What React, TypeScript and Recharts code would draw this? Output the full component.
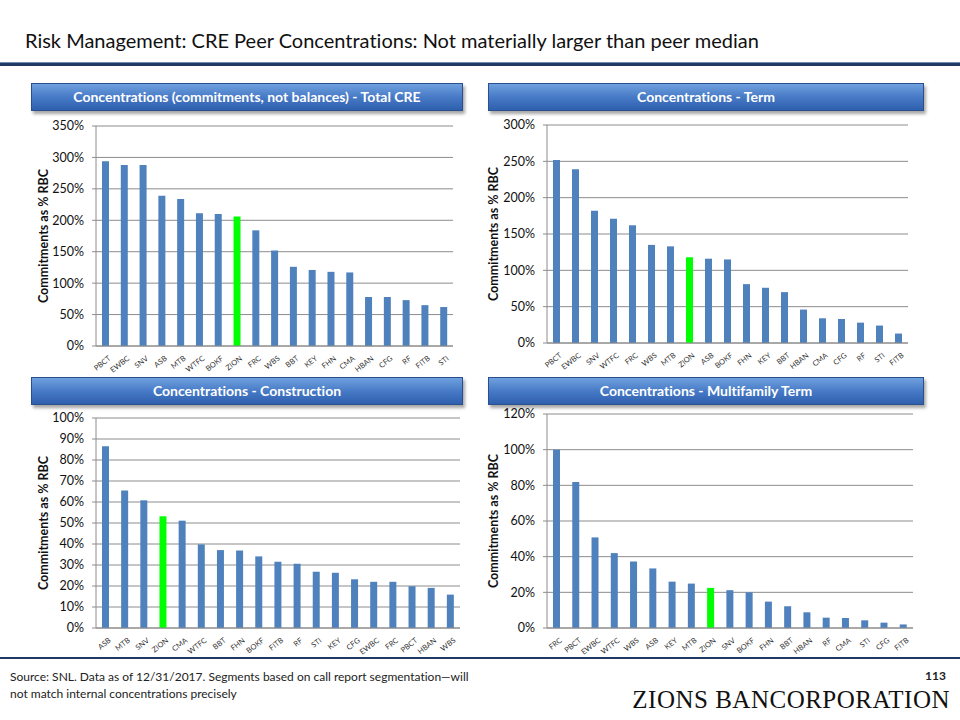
import React from 'react'
import { BarChart, Bar, XAxis, YAxis, CartesianGrid, Cell } from 'recharts'

// tickers + values (% of RBC)
const totalBanks = ['PBCT', 'EWBC', 'SNV', 'ASB', 'MTB', 'WTFC', 'BOKF', 'ZION', 'FRC', 'WBS', 'BBT', 'KEY', 'FHN', 'CMA', 'HBAN', 'CFG', 'RF', 'FITB', 'STI']
const totalValues = [294, 288, 288, 239, 234, 211, 210, 206, 184, 152, 126, 121, 118, 117, 78, 78, 73, 65, 62]

const termBanks = ['PBCT', 'EWBC', 'SNV', 'WTFC', 'FRC', 'WBS', 'MTB', 'ZION', 'ASB', 'BOKF', 'FHN', 'KEY', 'BBT', 'HBAN', 'CMA', 'CFG', 'RF', 'STI', 'FITB']
const termValues = [252, 239, 182, 171, 162, 135, 133, 118, 116, 115, 81, 76, 70, 46, 34, 33, 28, 24, 13]

const constrBanks = ['ASB', 'MTB', 'SNV', 'ZION', 'CMA', 'WTFC', 'BBT', 'FHN', 'BOKF', 'FITB', 'RF', 'STI', 'KEY', 'CFG', 'EWBC', 'FRC', 'PBCT', 'HBAN', 'WBS']
const constrValues = [86.5, 65.5, 60.8, 53.2, 51.1, 39.8, 37.1, 36.9, 34.1, 31.5, 30.6, 26.8, 26.3, 23.2, 22, 22, 19.9, 19.1, 15.9]

const mfBanks = ['FRC', 'PBCT', 'EWBC', 'WTFC', 'WBS', 'ASB', 'KEY', 'MTB', 'ZION', 'SNV', 'BOKF', 'FHN', 'BBT', 'HBAN', 'RF', 'CMA', 'STI', 'CFG', 'FITB']
const mfValues = [100, 81.8, 50.8, 42, 37.3, 33.4, 26, 24.9, 22.5, 21.2, 20, 14.8, 12.2, 8.8, 5.8, 5.6, 4.3, 3, 2]

const totalTicks = [0, 50, 100, 150, 200, 250, 300, 350]
const termTicks = [0, 50, 100, 150, 200, 250, 300]
const constrTicks = [0, 10, 20, 30, 40, 50, 60, 70, 80, 90, 100]
const mfTicks = [0, 20, 40, 60, 80, 100, 120]

const FONT = 'Lato, "Open Sans", sans-serif'
const BLUE = '#4f81bd'
const GREEN = '#00ff00'
const GRID = '#8c8c8c'

const toRows = (banks: string[], values: number[]) =>
  banks.map((name, i) => ({ name, value: values[i] }))

const BankTick = (props: any) => {
  const { x, y, payload } = props
  return (
    <g transform={`translate(${x + 4},${y + 3}) rotate(-38)`}>
      <text
        x={0}
        y={0}
        dy={3}
        textAnchor='end'
        fontSize={7.5}
        fill='#333'
        fontFamily={FONT}
      >
        {payload.value}
      </text>
    </g>
  )
}

function Panel(props: {
  banks: string[]
  values: number[]
  ticks: number[]
  left: number
  top: number
  width: number
  height: number
  margin: { top: number; right: number; left: number; bottom: number }
  yWidth: number
  xHeight: number
  labelX: number
}) {
  const { banks, values, ticks, left, top, width, height, margin, yWidth, xHeight, labelX } = props
  const data = toRows(banks, values)
  const plotTop = margin.top
  const plotBottom = height - margin.bottom - xHeight
  return (
    <div style={{ position: 'absolute', left, top, width, height }}>
      <BarChart width={width} height={height} data={data} margin={margin} barSize={7}>
        <CartesianGrid vertical={false} stroke={GRID} strokeWidth={1} />
        <XAxis
          dataKey='name'
          interval={0}
          height={xHeight}
          tick={<BankTick />}
          tickLine={false}
          axisLine={{ stroke: GRID }}
        />
        <YAxis
          width={yWidth}
          domain={[ticks[0], ticks[ticks.length - 1]]}
          ticks={ticks}
          tickFormatter={(v: number) => `${v}%`}
          tickSize={4}
          tickMargin={8}
          tickLine={{ stroke: GRID }}
          axisLine={{ stroke: GRID }}
          tick={{ fontSize: 12.5, fill: '#111', fontFamily: FONT }}
          interval={0}
        />
        <Bar dataKey='value' isAnimationActive={false}>
          {data.map((d) => (
            <Cell key={d.name} fill={d.name === 'ZION' ? GREEN : BLUE} />
          ))}
        </Bar>
      </BarChart>
      <div
        style={{
          position: 'absolute',
          left: labelX,
          top: (plotTop + plotBottom) / 2,
          transform: 'translate(-50%, -50%) rotate(-90deg)',
          whiteSpace: 'nowrap',
          fontFamily: FONT,
          fontWeight: 700,
          fontSize: 12.5,
          color: '#111',
        }}
      >
        Commitments as % RBC
      </div>
    </div>
  )
}

function Header(props: { text: string; left: number; top: number; width: number }) {
  return (
    <div
      style={{
        position: 'absolute',
        left: props.left,
        top: props.top,
        width: props.width,
        height: 26,
        background: 'linear-gradient(#6fa0de, #4477c4 55%, #2f60ae)',
        border: '1px solid #2a4f8c',
        boxShadow: '2px 3px 3px rgba(0,0,0,0.35)',
        color: '#fff',
        fontFamily: FONT,
        fontWeight: 700,
        fontSize: 14,
        lineHeight: '26px',
        textAlign: 'center',
        fontVariantLigatures: 'none',
      }}
    >
      {props.text}
    </div>
  )
}

export default function App() {
  return (
    <div
      style={{
        position: 'absolute',
        left: 0,
        top: 0,
        width: 960,
        height: 720,
        background: '#fff',
        overflow: 'hidden',
        fontVariantLigatures: 'none',
      }}
    >
      <div
        style={{
          position: 'absolute',
          left: 25,
          top: 28,
          fontFamily: FONT,
          fontSize: 20,
          color: '#111',
          whiteSpace: 'nowrap',
        }}
      >
        Risk Management: CRE Peer Concentrations: Not materially larger than peer median
      </div>
      <div
        style={{
          position: 'absolute',
          left: 0,
          top: 62,
          width: 960,
          height: 3,
          background: '#1f3864',
          borderTop: '1px solid #6f8fb8',
        }}
      />

      <Header text='Concentrations (commitments, not balances) - Total CRE' left={31} top={83} width={430} />
      <Header text='Concentrations - Term' left={488} top={83} width={434} />
      <Header text='Concentrations - Construction' left={31} top={377} width={430} />
      <Header text='Concentrations - Multifamily Term' left={488} top={377} width={434} />

      <Panel
        banks={totalBanks}
        values={totalValues}
        ticks={totalTicks}
        left={20}
        top={115}
        width={445}
        height={260}
        margin={{ top: 11, right: 12, left: 0, bottom: 0 }}
        yWidth={76}
        xHeight={29}
        labelX={23}
      />
      <Panel
        banks={termBanks}
        values={termValues}
        ticks={termTicks}
        left={480}
        top={115}
        width={445}
        height={260}
        margin={{ top: 10, right: 17, left: 0, bottom: 0 }}
        yWidth={67}
        xHeight={32}
        labelX={13}
      />
      <Panel
        banks={constrBanks}
        values={constrValues}
        ticks={constrTicks}
        left={20}
        top={405}
        width={445}
        height={255}
        margin={{ top: 13, right: 5, left: 0, bottom: 0 }}
        yWidth={76}
        xHeight={32}
        labelX={23}
      />
      <Panel
        banks={mfBanks}
        values={mfValues}
        ticks={mfTicks}
        left={480}
        top={405}
        width={445}
        height={255}
        margin={{ top: 9, right: 12, left: 0, bottom: 0 }}
        yWidth={67}
        xHeight={32}
        labelX={13}
      />

      <div
        style={{
          position: 'absolute',
          left: 0,
          top: 657,
          width: 960,
          height: 2,
          background: '#1f3864',
        }}
      />
      <div
        style={{
          position: 'absolute',
          left: 10,
          top: 668,
          width: 478,
          fontFamily: FONT,
          fontSize: 12,
          lineHeight: '17px',
          color: '#222',
        }}
      >
        Source: SNL. Data as of 12/31/2017. Segments based on call report segmentation—will not match internal
        concentrations precisely
      </div>
      <div
        style={{
          position: 'absolute',
          right: 14,
          top: 668,
          fontFamily: FONT,
          fontSize: 12,
          fontWeight: 700,
          color: '#222',
        }}
      >
        113
      </div>
      <div
        style={{
          position: 'absolute',
          right: 10,
          top: 686,
          fontFamily: '"Liberation Serif", "DejaVu Serif", serif',
          fontSize: 25,
          letterSpacing: 0.5,
          color: '#111',
          whiteSpace: 'nowrap',
        }}
      >
        ZIONS BANCORPORATION
      </div>
    </div>
  )
}
